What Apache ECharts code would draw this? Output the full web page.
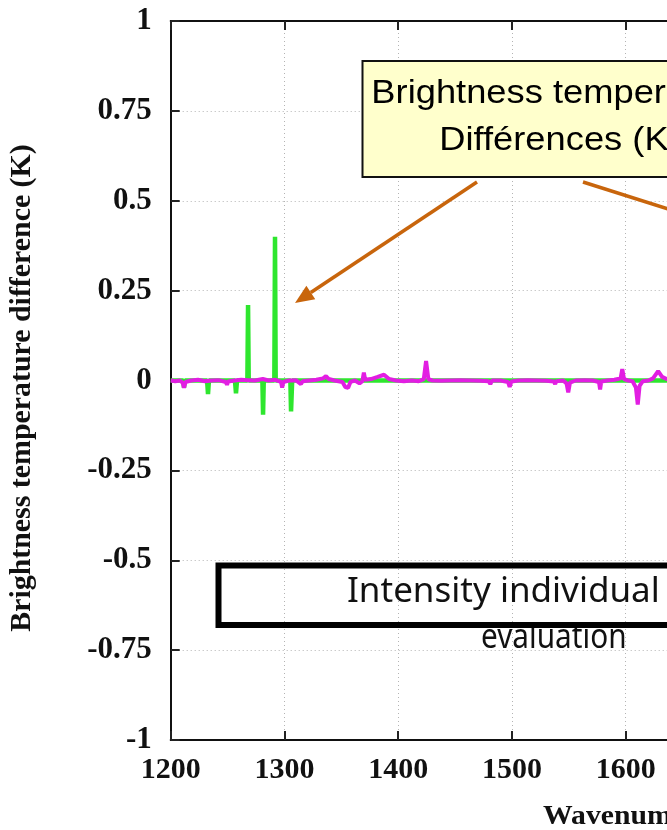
<!DOCTYPE html>
<html>
<head>
<meta charset="utf-8">
<script src="https://cdn.jsdelivr.net/npm/echarts@6/dist/echarts.min.js"></script>
<style>
  html, body { margin: 0; padding: 0; background: #ffffff; }
  #chart { width: 667px; height: 830px; }
</style>
</head>
<body>
<div id="chart"></div>
<script>
// Axis ranges (wavenumber in cm-1, brightness temperature difference in K)
const xTickValues = [1200, 1300, 1400, 1500, 1600, 1700, 1800];
const yTickValues = [-1, -0.75, -0.5, -0.25, 0, 0.25, 0.5, 0.75, 1];

// Green spectrum: sharp residual spikes in the 1200-1310 band
const greenWavenumber = [1200, 1211, 1211.7, 1212.5, 1232, 1232.8, 1233.6, 1256.5, 1257.4, 1258.3,
  1267.4, 1268, 1268.6, 1280.6, 1281.2, 1281.8, 1291.1, 1291.7, 1292.3, 1305.2, 1305.8, 1306.8, 1650];
const greenDifference = [0, 0, -0.02, 0, 0, -0.038, 0, 0, -0.036, 0,
  0, 0.21, 0, 0, -0.095, 0, 0, 0.40, 0, 0, -0.086, 0, 0];

// Magenta spectrum: small residuals around zero
const magentaWavenumber = [1200, 1204, 1208, 1210.5, 1211.7, 1213, 1218, 1224, 1230, 1236, 1242,
  1248.5, 1249.5, 1250.5, 1256, 1262, 1268, 1274, 1281, 1286, 1292, 1297, 1298, 1299, 1304, 1310,
  1314.5, 1316, 1322, 1328, 1334, 1336.5, 1339, 1344, 1351, 1353.5, 1356, 1358, 1362, 1366, 1368.5,
  1369.8, 1371, 1376, 1382, 1387.5, 1392, 1398, 1405, 1412, 1418, 1422.5, 1424.5, 1426.5, 1430,
  1438, 1446, 1455, 1464, 1472, 1479.5, 1481, 1482.5, 1490, 1496.5, 1498, 1499.5, 1506, 1514, 1522,
  1530, 1537, 1538, 1539, 1545, 1548, 1549.5, 1551, 1556, 1564, 1571, 1576.5, 1577.5, 1578.5, 1584,
  1590, 1595.5, 1597, 1598.5, 1602, 1606, 1609, 1610.6, 1612.2, 1615, 1620, 1624, 1628.5, 1632,
  1636, 1642, 1650];
const magentaDifference = [0, -0.002, 0, -0.006, -0.02, -0.004, 0, 0.002, -0.002, 0, 0.001,
  -0.004, -0.012, -0.003, 0, 0.002, 0.001, 0, 0.004, 0, 0.002, -0.004, -0.02, -0.004, 0, 0.001,
  -0.01, -0.002, 0, 0.002, 0.006, 0.012, 0.004, 0, -0.004, -0.018, -0.02, -0.004, 0, -0.008, -0.002,
  0.022, 0.002, 0.004, 0.01, 0.016, 0.004, 0, -0.002, 0, -0.002, 0.004, 0.054, 0.004, 0,
  -0.001, 0, 0.001, 0, -0.001, -0.002, -0.01, 0, 0, -0.004, -0.018, -0.003, 0, 0.001, 0,
  -0.001, -0.003, -0.01, -0.002, 0, -0.008, -0.033, -0.006, 0, 0.001, 0, -0.004, -0.025, -0.003, 0,
  0.002, 0.006, 0.032, 0.004, 0, -0.002, -0.02, -0.067, -0.015, -0.002, 0, 0.006, 0.026, 0.01,
  0.004, 0.002, 0];

const pairs = (xs, ys) => xs.map((x, i) => [x, ys[i]]);

const ORANGE = '#c8650c';
const SERIF = 'Liberation Serif';

function arrow(x1, y1, x2, y2, head, half, color, width) {
  const dx = x2 - x1, dy = y2 - y1, len = Math.hypot(dx, dy);
  const ux = dx / len, uy = dy / len;
  const bx = x2 - ux * head, by = y2 - uy * head;
  return [
    { type: 'line', z: 100, shape: { x1: x1, y1: y1, x2: bx, y2: by },
      style: { stroke: color, lineWidth: width } },
    { type: 'polygon', z: 100,
      shape: { points: [[x2, y2], [bx - uy * half, by + ux * half], [bx + uy * half, by - ux * half]] },
      style: { fill: color } }
  ];
}

const gridLeft = 170.7, gridTop = 21, gridBottomY = 740;
const pxPerUnit = 1.1375;
const gridWidth = (xTickValues[xTickValues.length - 1] - xTickValues[0]) * pxPerUnit;

const axisLineStyle = { color: '#111', width: 2 };
const tickStyle = { color: '#222', width: 2 };
const gridLineStyle = { color: '#b4b4b4', width: 1, type: [1, 3] };
const plainNumber = v => String(v);

const chart = echarts.init(document.getElementById('chart'), null, { renderer: 'canvas' });

chart.setOption({
  animation: false,
  backgroundColor: '#ffffff',
  grid: { left: gridLeft, top: gridTop, width: gridWidth, height: gridBottomY - gridTop,
    outerBoundsMode: 'none', containLabel: false },
  xAxis: [
    {
      type: 'value', position: 'bottom',
      min: xTickValues[0], max: xTickValues[xTickValues.length - 1], interval: 100,
      axisLine: { onZero: false, lineStyle: axisLineStyle },
      axisTick: { inside: true, length: 9, lineStyle: tickStyle },
      axisLabel: { formatter: plainNumber, fontFamily: SERIF, fontWeight: 'bold', fontSize: 30,
        color: '#111', margin: 15 },
      splitLine: { show: true, lineStyle: gridLineStyle }
    },
    {
      type: 'value', position: 'top',
      min: xTickValues[0], max: xTickValues[xTickValues.length - 1], interval: 100,
      axisLine: { onZero: false, lineStyle: axisLineStyle },
      axisTick: { inside: true, length: 9, lineStyle: tickStyle },
      axisLabel: { show: false },
      splitLine: { show: false }
    }
  ],
  yAxis: {
    type: 'value',
    min: yTickValues[0], max: yTickValues[yTickValues.length - 1], interval: 0.25,
    axisLine: { onZero: false, lineStyle: axisLineStyle },
    axisTick: { inside: true, length: 9, lineStyle: tickStyle },
    axisLabel: { formatter: plainNumber, fontFamily: SERIF, fontWeight: 'bold', fontSize: 31,
      color: '#111', margin: 19 },
    splitLine: { show: true, lineStyle: gridLineStyle }
  },
  series: [
    {
      type: 'line', name: 'green', data: pairs(greenWavenumber, greenDifference),
      showSymbol: false, z: 3,
      lineStyle: { color: '#2ee62e', width: 4.5, join: 'bevel' }
    },
    {
      type: 'line', name: 'magenta', data: pairs(magentaWavenumber, magentaDifference),
      showSymbol: false, z: 4,
      lineStyle: { color: '#e21ee2', width: 4, join: 'bevel' }
    }
  ],
  graphic: [
    // y-axis title
    { type: 'text', z: 100, x: 23, y: 388, rotation: Math.PI / 2, scaleX: 1.03,
      style: { text: 'Brightness temperature difference (K)', x: 0, y: 0,
        font: 'bold 29px "Liberation Serif"', fill: '#111', textAlign: 'center', textVerticalAlign: 'middle' } },
    // x-axis title
    { type: 'text', z: 100, x: 543, y: 817, scaleX: 1.1,
      style: { text: 'Wavenumber (cm-1)', x: 0, y: 0,
        font: 'bold 27px "Liberation Serif"', fill: '#111', textAlign: 'left', textVerticalAlign: 'middle' } },
    // callout box
    { type: 'rect', z: 100, shape: { x: 362.5, y: 61, width: 395, height: 116 },
      style: { fill: '#ffffcc', stroke: '#111', lineWidth: 2 } },
    { type: 'text', z: 101, x: 560, y: 94, scaleX: 1.1,
      style: { text: 'Brightness temperature', x: 0, y: 0,
        font: '33px "Liberation Sans"', fill: '#000', textAlign: 'center', textVerticalAlign: 'middle' } },
    { type: 'text', z: 101, x: 560, y: 141, scaleX: 1.1,
      style: { text: 'Différences (K)', x: 0, y: 0,
        font: '33px "Liberation Sans"', fill: '#000', textAlign: 'center', textVerticalAlign: 'middle' } },
    ...arrow(477, 182, 295, 303, 19, 8, ORANGE, 3.5),
    ...arrow(583, 182, 760, 238, 19, 8, ORANGE, 3.5),
    // evaluation label box
    { type: 'text', z: 100, x: 347, y: 592, scaleX: 1.0,
      style: { text: 'Intensity individual', x: 0, y: 0,
        font: '35px "Noto Sans"', fill: '#111', textAlign: 'left', textVerticalAlign: 'middle' } },
    { type: 'text', z: 100, x: 481, y: 638, scaleX: 0.85,
      style: { text: 'evaluation', x: 0, y: 0,
        font: '35px "Noto Sans"', fill: '#111', textAlign: 'left', textVerticalAlign: 'middle' } },
    { type: 'rect', z: 102, shape: { x: 218.5, y: 565.5, width: 640, height: 59.5 },
      style: { fill: 'none', stroke: '#000', lineWidth: 6 } }
  ]
});
</script>
</body>
</html>
